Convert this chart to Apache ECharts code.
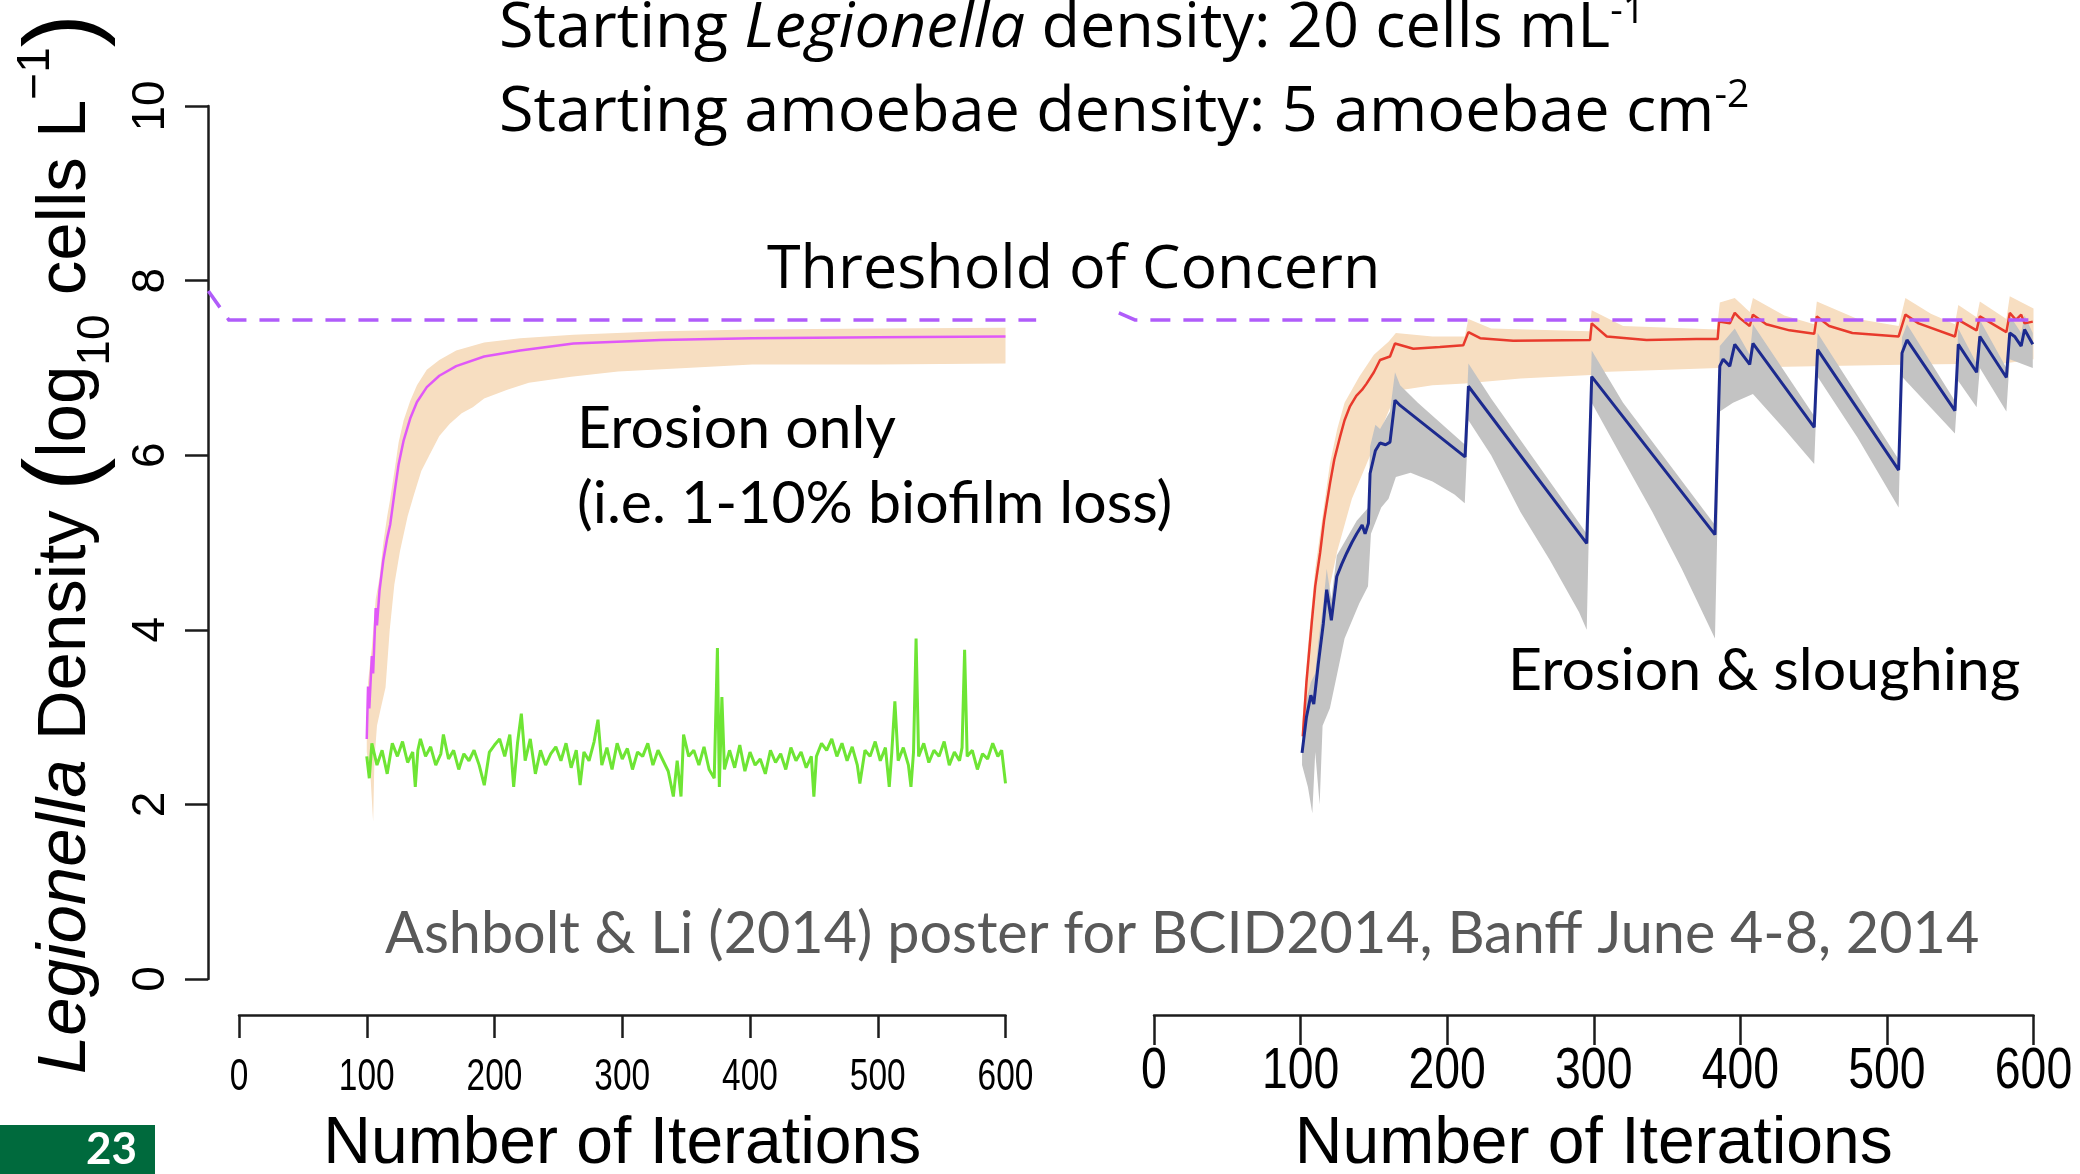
<!DOCTYPE html>
<html><head><meta charset="utf-8">
<script src="https://cdn.jsdelivr.net/npm/echarts@6/dist/echarts.min.js"></script>
<style>html,body{margin:0;padding:0;background:#fff}#c{width:2080px;height:1174px}</style>
</head><body><div id="c"></div>
<script>
// ---------- data (iterations, log10 cells/L) ----------
const xTickValues = [0, 100, 200, 300, 400, 500, 600];
const yTickValues = [0, 2, 4, 6, 8, 10];
const thresholdLeft = [[-24, 7.88], [-8, 7.55], [624, 7.55]];
const thresholdRight = [[-24, 7.63], [-13, 7.55], [604, 7.55]];

// Erosion only: Legionella median (magenta) and band (peach)
const erosionMedian = [[100,2.75],[101,3.35],[102,3.1],[104,3.7],[105,3.5],[107,4.25],[108,4.05],[110,4.45],[113,4.8],[116,5.05],[118.4,5.21],[122,5.6],[125,5.9],[128.9,6.17],[134,6.42],[139.3,6.61],[147,6.78],[156.8,6.91],[170,7.02],[191.9,7.13],[220,7.2],[261.8,7.28],[330,7.32],[401.8,7.34],[500,7.35],[600,7.36]];
const erosionBandHigh = [[100,2.85],[101,3.4],[104,3.8],[107,4.35],[110,4.6],[113,5.0],[116,5.3],[118.4,5.5],[122,5.85],[125,6.15],[128.9,6.4],[134,6.62],[139.3,6.8],[147,6.98],[156.8,7.09],[170,7.2],[191.9,7.29],[220,7.34],[261.8,7.38],[330,7.42],[401.8,7.44],[500,7.45],[600,7.46]];
const erosionBandLow = [[100,2.6],[103,2.3],[105,1.8],[106,2.5],[108,2.9],[111,3.1],[114.7,3.34],[118,4.0],[121.6,4.52],[126,4.9],[132,5.3],[137,5.55],[142.7,5.82],[149,6.0],[156.8,6.22],[165,6.36],[174.3,6.48],[183,6.55],[191.9,6.65],[210,6.75],[226.9,6.83],[260,6.9],[296.8,6.96],[350,7.0],[401.8,7.04],[500,7.04],[600,7.05]];

// Erosion only: amoebae-associated series (green)
const erosionGreen = [[100,2.55],[102,2.3],[104,2.7],[108,2.45],[112,2.62],[116,2.35],[120,2.7],[124,2.55],[128,2.72],[132,2.48],[136,2.6],[138,2.2],[140,2.62],[142,2.75],[146,2.55],[150,2.66],[154,2.45],[158,2.58],[160,2.8],[164,2.52],[168,2.62],[172,2.4],[176,2.58],[180,2.5],[184,2.62],[188,2.45],[192,2.22],[196,2.6],[200,2.68],[204,2.75],[208,2.55],[212,2.8],[215,2.2],[218,2.7],[221,3.04],[224,2.5],[228,2.75],[232,2.35],[236,2.62],[240,2.45],[244,2.58],[248,2.66],[252,2.5],[256,2.7],[260,2.42],[264,2.62],[267,2.22],[270,2.6],[274,2.5],[278,2.72],[281,2.97],[284,2.45],[288,2.65],[292,2.4],[296,2.7],[300,2.52],[304,2.64],[308,2.4],[312,2.6],[316,2.55],[320,2.7],[324,2.45],[328,2.62],[332,2.5],[336,2.38],[340,2.09],[343,2.5],[346,2.09],[348,2.8],[352,2.55],[356,2.62],[360,2.45],[364,2.66],[368,2.4],[372,2.3],[374.5,3.79],[376,2.2],[378,3.23],[380,2.4],[384,2.62],[388,2.42],[392,2.68],[396,2.38],[400,2.6],[404,2.45],[408,2.52],[412,2.35],[416,2.62],[420,2.48],[424,2.58],[428,2.4],[432,2.65],[436,2.5],[440,2.6],[444,2.42],[448,2.55],[450,2.09],[452,2.55],[456,2.7],[460,2.62],[464,2.75],[468,2.55],[472,2.7],[476,2.5],[480,2.66],[484,2.45],[486,2.24],[490,2.62],[494,2.55],[498,2.72],[502,2.5],[506,2.65],[509,2.2],[511,2.6],[513.4,3.18],[516,2.5],[520,2.65],[524,2.45],[526,2.2],[528,2.6],[530,3.9],[532,2.55],[536,2.7],[540,2.48],[544,2.62],[548,2.55],[552,2.72],[556,2.45],[560,2.6],[564,2.5],[566,2.65],[568,3.77],[570,2.55],[574,2.62],[578,2.4],[582,2.58],[586,2.52],[590,2.7],[594,2.55],[597,2.62],[600,2.24]];

// Erosion & sloughing: red median + peach band
const sloughRed = [[101.5,2.78],[104,3.4],[107.6,4.08],[110,4.5],[113.3,4.88],[116,5.25],[120.1,5.68],[123,5.95],[126.9,6.21],[130,6.4],[133.7,6.56],[138,6.68],[142,6.75],[145,6.82],[150,6.95],[154.2,7.09],[161,7.13],[164.4,7.28],[176.9,7.22],[195,7.24],[211,7.26],[214.5,7.41],[222.5,7.34],[245,7.31],[297.5,7.32],[298.6,7.51],[308.9,7.36],[336,7.32],[370,7.33],[384.5,7.33],[385.5,7.53],[392.8,7.51],[396.2,7.63],[399.6,7.57],[406.4,7.48],[408.6,7.61],[417.7,7.5],[433.5,7.43],[450.4,7.39],[452.2,7.59],[460.6,7.48],[476.4,7.4],[508,7.36],[512.6,7.61],[521.6,7.51],[546.4,7.36],[548.7,7.55],[561.2,7.43],[563.4,7.59],[581.5,7.41],[583.8,7.63],[588,7.55],[591.6,7.61],[593.9,7.51],[599.5,7.53]];
const sloughRedHigh = [[101,2.9],[105,3.8],[110,4.7],[115,5.3],[120,5.9],[125,6.3],[130,6.6],[140,6.9],[150,7.15],[160,7.3],[165,7.4],[190,7.36],[212,7.36],[214.5,7.56],[230,7.45],[297,7.42],[298.6,7.66],[320,7.48],[384,7.44],[386,7.75],[396.2,7.8],[406.4,7.64],[408.6,7.8],[430,7.6],[450.4,7.5],[452.2,7.76],[480,7.56],[508,7.48],[512.6,7.8],[530,7.62],[546.4,7.5],[548.7,7.72],[561.2,7.58],[563.4,7.76],[581.5,7.56],[583.8,7.82],[600,7.68]];
const sloughRedLow = [[101,2.7],[105,3.0],[110,3.4],[115,4.0],[120,4.5],[125,4.9],[130,5.2],[135,5.5],[140,5.7],[145,5.9],[150,6.1],[155,6.3],[160,6.5],[165,6.7],[170,6.75],[190,6.8],[212,6.82],[250,6.88],[298,6.92],[300,6.95],[350,6.98],[385,7.0],[450,7.02],[520,7.04],[580,7.05],[600,7.1]];

// Erosion & sloughing: blue median + grey band
const sloughBlue = [[101,2.59],[104,3.0],[107,3.25],[109,3.15],[112,3.6],[115.5,4.07],[117.8,4.46],[121,4.11],[124.7,4.61],[128,4.75],[131.5,4.88],[135,5.0],[138.3,5.1],[142,5.2],[144,5.1],[146.3,5.22],[147.4,5.79],[151,6.05],[154.2,6.14],[158,6.12],[161,6.15],[164.4,6.63],[167.9,6.57],[212.2,5.98],[214.5,6.79],[295.2,4.99],[298.6,6.9],[382.7,5.09],[386,7.02],[388.3,7.1],[392.8,7.02],[396.2,7.27],[406.4,7.04],[408.6,7.28],[450.4,6.32],[452.7,7.21],[508,5.83],[510.3,7.17],[513.7,7.32],[546.4,6.51],[548.7,7.27],[561.2,6.95],[563.4,7.36],[581.5,6.89],[583.8,7.4],[587.1,7.36],[591.6,7.25],[593.9,7.44],[599.5,7.27]];
const sloughBlueHigh = [[101,2.7],[104,3.2],[107,3.4],[110,3.5],[112,3.85],[115.5,4.3],[117.8,4.7],[121,4.35],[124.7,4.85],[131.5,5.05],[138.3,5.25],[146.3,5.4],[147.4,6.1],[151,6.35],[154.2,6.3],[161,6.5],[164.4,6.95],[167.9,6.8],[180,6.6],[212.2,6.12],[214.5,7.05],[230,6.65],[295.2,5.1],[298.6,7.2],[320,6.6],[382.7,5.2],[386,7.25],[396.2,7.45],[406.4,7.15],[408.6,7.5],[450.4,6.45],[452.7,7.4],[508,5.95],[510.3,7.35],[513.7,7.5],[546.4,6.62],[548.7,7.45],[561.2,7.05],[563.4,7.55],[581.5,7.0],[583.8,7.6],[591.6,7.4],[593.9,7.6],[599.5,7.4]];
const sloughBlueLow = [[101,2.45],[105,2.2],[108,1.9],[110,2.6],[113,2.0],[115,2.9],[120,3.1],[125,3.5],[130,3.9],[135,4.1],[140,4.3],[146,4.5],[148,5.1],[155,5.4],[160,5.5],[165,5.75],[175,5.8],[190,5.7],[205,5.55],[212,5.45],[214.5,6.4],[230,6.0],[250,5.35],[270,4.8],[290,4.2],[295.2,4.0],[298.6,6.6],[320,5.95],[340,5.35],[360,4.7],[382.7,3.9],[386,6.5],[395,6.6],[408.6,6.7],[430,6.3],[450.4,5.9],[452.7,6.9],[480,6.2],[508,5.4],[510.3,6.9],[546.4,6.25],[548.7,6.85],[561.2,6.55],[563.4,7.0],[581.5,6.5],[583.8,7.1],[599.5,7.0]];

// ---------- chart ----------
const chart = echarts.init(document.getElementById('c'), null, {renderer: 'canvas'});
const AX = '#1c1c1c';
const ANN = 'Lato, "Open Sans", sans-serif';
const HEAD = '"Open Sans", Lato, sans-serif';
const ARIAL = '"Liberation Sans", Arial, sans-serif';
const X_LABEL_LEFT = 44, X_LABEL_RIGHT = 58, Y_LABEL = 46;

function band(hi, lo, color, idx, z) {
  return {
    type: 'custom', xAxisIndex: idx, yAxisIndex: idx, z: z, silent: true, clip: false,
    data: hi,
    renderItem: function (params, api) {
      if (params.dataIndex !== 0) return null;
      const pts = hi.map(p => api.coord(p)).concat(lo.slice().reverse().map(p => api.coord(p)));
      return { type: 'polygon', shape: { points: pts }, style: { fill: color } };
    }
  };
}
function polyline(pts, color, width, idx, z, dash) {
  return {
    type: 'custom', xAxisIndex: idx, yAxisIndex: idx, z: z, silent: true, clip: false,
    data: pts,
    renderItem: function (params, api) {
      if (params.dataIndex !== 0) return null;
      return { type: 'polyline', shape: { points: pts.map(p => api.coord(p)) },
        style: { stroke: color, lineWidth: width, lineDash: dash || null, fill: null } };
    }
  };
}
function xAxisDef(idx, labelSize, tickLen, margin) {
  return {
    type: 'value', gridIndex: idx, min: 0, max: 600, interval: 100, offset: 36,
    axisLine: { show: true, onZero: false, lineStyle: { color: AX, width: 2.5 } },
    axisTick: { show: true, length: tickLen, lineStyle: { color: AX, width: 2.5 } },
    axisLabel: { fontFamily: ARIAL, fontSize: labelSize, color: '#000', margin: margin,
      formatter: v => xTickValues.includes(v) ? String(v) : '' },
    splitLine: { show: false },
    name: 'Number of Iterations', nameLocation: 'middle', nameGap: 97,
    nameTextStyle: { fontFamily: ARIAL, fontSize: 66, color: '#000' }
  };
}

const option = {
  animation: false,
  backgroundColor: '#fff',
  grid: [
    { left: 239, top: 106, width: 766.5, height: 873, containLabel: false, outerBoundsMode: 'none' },
    { left: 1154, top: 106, width: 879.5, height: 873, containLabel: false, outerBoundsMode: 'none' }
  ],
  xAxis: [ xAxisDef(0, X_LABEL_LEFT, 23, 41), xAxisDef(1, X_LABEL_RIGHT, 30, 28) ],
  yAxis: [
    { type: 'value', gridIndex: 0, min: 0, max: 10, interval: 2, offset: 31,
      axisLine: { show: true, onZero: false, lineStyle: { color: AX, width: 2.5 } },
      axisTick: { show: true, length: 23, lineStyle: { color: AX, width: 2.5 } },
      axisLabel: { rotate: 90, fontFamily: ARIAL, fontSize: Y_LABEL, color: '#000', margin: 34,
        formatter: v => yTickValues.includes(v) ? String(v) : '' },
      splitLine: { show: false } },
    { type: 'value', gridIndex: 1, min: 0, max: 10, show: false }
  ],
  series: [
    band(erosionBandHigh, erosionBandLow, '#F7DEC1', 0, 1),
    { type: 'line', xAxisIndex: 0, yAxisIndex: 0, data: erosionMedian, z: 5, showSymbol: false, symbol: 'none', silent: true,
      lineStyle: { color: '#E058F8', width: 2.5 } },
    { type: 'line', xAxisIndex: 0, yAxisIndex: 0, data: erosionGreen, z: 6, showSymbol: false, symbol: 'none', silent: true,
      lineStyle: { color: '#6EE534', width: 3 } },
    polyline(thresholdLeft, '#B05CFA', 3.5, 0, 7, [20, 13]),
    band(sloughRedHigh, sloughRedLow, '#F7DEC1', 1, 1),
    band(sloughBlueHigh, sloughBlueLow, '#C3C3C3', 1, 2),
    { type: 'line', xAxisIndex: 1, yAxisIndex: 1, data: sloughRed, z: 5, showSymbol: false, symbol: 'none', silent: true,
      lineStyle: { color: '#E83A2C', width: 2.5 } },
    { type: 'line', xAxisIndex: 1, yAxisIndex: 1, data: sloughBlue, z: 6, showSymbol: false, symbol: 'none', silent: true,
      lineStyle: { color: '#1C2A8E', width: 3 } },
    polyline(thresholdRight, '#B05CFA', 3.5, 1, 7, [20, 13])
  ],
  graphic: [
    { type: 'text', x: 66, y: 544, rotation: Math.PI / 2, z: 10,
      style: { text: '{i|Legionella}{n| Density }{p|(}{n|log}{b|10}{n| cells L}{t|−1}{p|)}',
        align: 'center', verticalAlign: 'middle', fill: '#000',
        rich: {
          n: { fontFamily: ARIAL, fontSize: 69, lineHeight: 106, verticalAlign: 'middle' },
          i: { fontFamily: ARIAL, fontStyle: 'italic', fontSize: 69, lineHeight: 106, verticalAlign: 'middle' },
          p: { fontFamily: ARIAL, fontSize: 100, lineHeight: 106, verticalAlign: 'middle' },
          b: { fontFamily: ARIAL, fontSize: 46, lineHeight: 46, verticalAlign: 'bottom' },
          t: { fontFamily: ARIAL, fontSize: 46, lineHeight: 46, verticalAlign: 'top' }
        } } },
    { type: 'text', x: 499, y: 29, z: 10,
      style: { text: '{n|Starting }{i|Legionella}{n| density: 20 cells mL}{s|-1}', verticalAlign: 'middle', fill: '#000',
        rich: { n: { fontFamily: HEAD, fontSize: 63, lineHeight: 74, verticalAlign: 'middle' },
                i: { fontFamily: HEAD, fontSize: 63, fontStyle: 'italic', lineHeight: 74, verticalAlign: 'middle' },
                s: { fontFamily: HEAD, fontSize: 39, lineHeight: 39, verticalAlign: 'top' } } } },
    { type: 'text', x: 499, y: 113, z: 10,
      style: { text: '{n|Starting amoebae density: 5 amoebae cm}{s|-2}', verticalAlign: 'middle', fill: '#000',
        rich: { n: { fontFamily: HEAD, fontSize: 63, lineHeight: 74, verticalAlign: 'middle' },
                s: { fontFamily: HEAD, fontSize: 39, lineHeight: 39, verticalAlign: 'top' } } } },
    { type: 'text', x: 767, y: 271, z: 10, style: { text: 'Threshold of Concern', font: '61px ' + HEAD, fill: '#000', verticalAlign: 'middle' } },
    { type: 'text', x: 577, y: 429, z: 10, style: { text: 'Erosion only', font: '59px ' + ANN, fill: '#000', verticalAlign: 'middle' } },
    { type: 'text', x: 577, y: 504, z: 10, style: { text: '(i.e. 1-10% biofilm loss)', font: '59px ' + ANN, fill: '#000', verticalAlign: 'middle' } },
    { type: 'text', x: 1508, y: 671, z: 10, style: { text: 'Erosion & sloughing', font: '59px ' + ANN, fill: '#000', verticalAlign: 'middle' } },
    { type: 'text', x: 385, y: 934, z: 10, style: { text: 'Ashbolt & Li (2014) poster for BCID2014, Banff June 4-8, 2014', font: '57.5px ' + ANN, fill: '#595959', verticalAlign: 'middle' } },
    { type: 'rect', shape: { x: 0, y: 1125, width: 155, height: 49 }, style: { fill: '#006A3D' }, z: 10 },
    { type: 'text', x: 137, y: 1150, z: 11, style: { text: '23', font: 'bold 44px ' + ANN, fill: '#fff', align: 'right', verticalAlign: 'middle' } }
  ]
};
chart.setOption(option);

// The original x tick labels are set in a condensed face: squeeze the axis-generated labels horizontally.
(function condenseXLabels() {
  const zr = chart.getZr();
  const names = xTickValues.map(String);
  function walk(el) {
    if (el.type === 'text' && el.style && names.includes(el.style.text) && !el.rotation) {
      const fs = el.style.fontSize;
      if (fs === X_LABEL_LEFT || fs === X_LABEL_RIGHT || fs === X_LABEL_LEFT + 'px' || fs === X_LABEL_RIGHT + 'px') {
        el.scaleX = fs == X_LABEL_LEFT || fs === X_LABEL_LEFT + 'px' ? 0.76 : 0.8;
        el.markRedraw && el.markRedraw();
      }
    }
    if (el.isGroup) el.eachChild(walk);
  }
  zr.storage.getRoots().forEach(walk);
  zr.refreshImmediately ? zr.refreshImmediately() : zr.refresh();
})();
</script></body></html>
